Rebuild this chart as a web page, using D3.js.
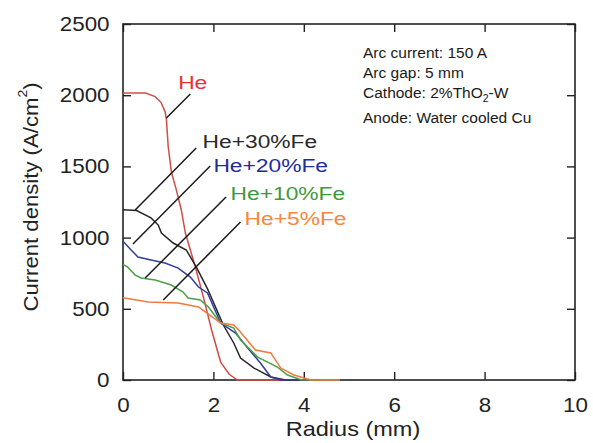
<!DOCTYPE html>
<html>
<head>
<meta charset="utf-8">
<script src="https://cdn.jsdelivr.net/npm/d3@7"></script>
<style>
  body { margin: 0; background: #fff; }
  text { font-family: 'Liberation Sans', Arial, sans-serif; }
</style>
</head>
<body>
<script>
// radius (mm) and current density (A/cm2)
const seriesNames = ['He', 'He+30%Fe', 'He+20%Fe', 'He+10%Fe', 'He+5%Fe']
const rHe = [0, 0.5, 0.71, 0.84, 0.93, 0.96, 1.0, 1.07, 1.18, 1.29, 1.38, 1.6, 1.78, 1.96, 2.16, 2.35, 2.53, 4.8]
const jHe = [2015, 2015, 1990, 1950, 1885, 1833, 1640, 1461, 1335, 1194, 1032, 794, 580, 351, 126, 40, 0, 0]
const rFe30 = [0, 0.3, 0.62, 0.78, 0.85, 1.11, 1.4, 1.62, 1.87, 2.22, 2.45, 2.6, 2.9, 3.27, 3.6, 4.8]
const jFe30 = [1195, 1190, 1138, 1088, 1032, 962, 913, 794, 640, 386, 260, 154, 84, 21, 0, 0]
const rFe20 = [0, 0.18, 0.33, 0.62, 0.93, 1.22, 1.49, 1.67, 1.87, 2.16, 2.49, 2.76, 3.04, 3.27, 3.5, 4.8]
const jFe20 = [975, 913, 864, 843, 822, 786, 723, 653, 611, 400, 330, 225, 119, 21, 0, 0]
const rFe10 = [0, 0.1, 0.27, 0.4, 0.71, 1.07, 1.33, 1.44, 1.71, 1.89, 2.16, 2.45, 2.6, 2.98, 3.42, 3.64, 3.95, 4.8]
const jFe10 = [810, 794, 737, 716, 702, 667, 618, 576, 562, 513, 400, 365, 281, 161, 91, 35, 0, 0]
const rFe5 = [0, 0.56, 1.22, 1.67, 1.82, 2.16, 2.45, 2.56, 2.93, 3.27, 3.49, 3.78, 4.16, 4.8]
const jFe5 = [578, 548, 541, 513, 478, 400, 386, 351, 211, 190, 84, 35, 0, 0]

const xTicks = [0, 2, 4, 6, 8, 10]
const yTicks = [0, 500, 1000, 1500, 2000, 2500]
const notes = ['Arc current: 150 A', 'Arc gap: 5 mm', 'Cathode: 2%ThO2-W', 'Anode: Water cooled Cu']

const W = 593, H = 443
const margin = {top: 24, right: 18, bottom: 63, left: 123}
const width = W - margin.left - margin.right
const height = H - margin.top - margin.bottom

const svg = d3.select('body').append('svg')
  .attr('width', W).attr('height', H)
const g = svg.append('g')
  .attr('transform', `translate(${margin.left},${margin.top})`)

const x = d3.scaleLinear().domain([0, 10]).range([0, width])
const y = d3.scaleLinear().domain([0, 2500]).range([height, 0])

// axes with inward ticks on all four sides
const styleAxis = sel => {
  sel.select('.domain').remove()
  sel.selectAll('line').attr('stroke', '#222').attr('stroke-width', 1.4)
}
g.append('g').attr('transform', `translate(0,${height})`)
  .call(d3.axisBottom(x).tickValues(xTicks).tickSizeInner(-8).tickSizeOuter(0).tickPadding(18))
  .call(styleAxis)
  .selectAll('text')
  .attr('font-size', 20).attr('fill', '#222')
  .attr('transform', 'scale(1.12,1)')
g.append('g')
  .call(d3.axisTop(x).tickValues(xTicks).tickSizeInner(-8).tickSizeOuter(0).tickFormat(''))
  .call(styleAxis)
g.append('g')
  .call(d3.axisLeft(y).tickValues(yTicks).tickSizeInner(-8).tickSizeOuter(0).tickPadding(12).tickFormat(d3.format('d')))
  .call(styleAxis)
  .selectAll('text')
  .attr('font-size', 20).attr('fill', '#222')
  .attr('transform', 'scale(1.12,1)')
g.append('g').attr('transform', `translate(${width},0)`)
  .call(d3.axisRight(y).tickValues(yTicks).tickSizeInner(-8).tickSizeOuter(0).tickFormat(''))
  .call(styleAxis)

g.append('rect')
  .attr('width', width).attr('height', height)
  .attr('fill', 'none').attr('stroke', '#222').attr('stroke-width', 1.6)

// curves
const series = [
  {r: rHe, j: jHe, color: '#cf4d46'},
  {r: rFe30, j: jFe30, color: '#262626'},
  {r: rFe20, j: jFe20, color: '#333d9c'},
  {r: rFe10, j: jFe10, color: '#4f9e48'},
  {r: rFe5, j: jFe5, color: '#f0793f'}
]
const line = d3.line().x(d => x(d[0])).y(d => y(d[1]))
series.forEach(s => {
  g.append('path')
    .datum(d3.zip(s.r, s.j))
    .attr('d', line)
    .attr('fill', 'none')
    .attr('stroke', s.color)
    .attr('stroke-width', 1.5)
})

// leader lines and series labels
const leaders = [
  [[1.49, 2008], [0.96, 1840]],
  [[1.62, 1629], [0.27, 1194]],
  [[1.93, 1503], [0.22, 955]],
  [[2.28, 1285], [0.49, 716]],
  [[2.6, 1110], [0.89, 562]]
]
leaders.forEach(l => {
  g.append('path').attr('d', line(l))
    .attr('stroke', '#1a1a1a').attr('stroke-width', 1.5).attr('fill', 'none')
})

const labelAt = [[1.22, 2044], [1.76, 1629], [2.0, 1461], [2.38, 1264], [2.69, 1088]]
const labelColors = ['#e8332c', '#2a2a2a', '#1f2d9c', '#3f9a3b', '#f6873b']
seriesNames.forEach((name, i) => {
  g.append('text')
    .attr('transform', `translate(${x(labelAt[i][0])},${y(labelAt[i][1])}) scale(1.2,1)`)
    .attr('font-size', 19)
    .attr('fill', labelColors[i])
    .text(name)
})

// condition notes
const noteG = g.append('g').attr('transform', `translate(${x(5.31)},0)`)
const noteY = [34, 54, 74, 99]
notes.forEach((t, i) => {
  const tx = noteG.append('text').attr('y', noteY[i]).attr('font-size', 15.5).attr('fill', '#1a1a1a')
  if (t.includes('ThO2')) {
    tx.append('tspan').text('Cathode: 2%ThO')
    tx.append('tspan').attr('font-size', 10.5).attr('dy', 4).text('2')
    tx.append('tspan').attr('dy', -4).text('-W')
  } else {
    tx.text(t)
  }
})

// axis titles
svg.append('text')
  .attr('transform', `translate(${margin.left + width / 2 + 4},${H - 7}) scale(1.12,1)`)
  .attr('text-anchor', 'middle')
  .attr('font-size', 21).attr('fill', '#222')
  .text('Radius (mm)')

const yt = svg.append('text')
  .attr('transform', `translate(38,${margin.top + height / 2 - 5}) rotate(-90) scale(1.08,1)`)
  .attr('text-anchor', 'middle')
  .attr('font-size', 20.5).attr('fill', '#222')
yt.append('tspan').text('Current density (A/cm')
yt.append('tspan').attr('font-size', 13).attr('dy', -11).text('2')
yt.append('tspan').attr('dy', 11).text(')')
</script>
</body>
</html>
